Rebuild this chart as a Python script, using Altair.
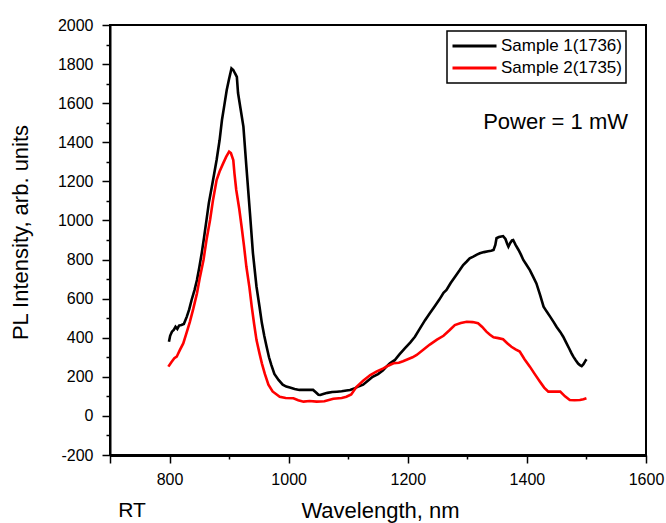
import altair as alt
import pandas as pd

# ---- data ----
wl_s1 = [799, 801, 804, 807, 810, 813, 816, 820, 824, 829,
         833, 837, 842, 846, 850, 854, 858, 862, 866, 871,
         875, 879, 884, 888, 892, 896, 900, 904, 907, 910,
         913, 915, 919, 924, 929, 935, 940, 946, 951, 955,
         959, 963, 967, 971, 976, 983, 990, 996, 1002, 1010,
         1018, 1025, 1033, 1041, 1046, 1050, 1053, 1058, 1065, 1073,
         1081, 1089, 1097, 1103, 1110, 1118, 1125, 1133, 1141, 1150,
         1158, 1165, 1170, 1178, 1186, 1195, 1204, 1212, 1220, 1229,
         1237, 1245, 1253, 1260, 1265, 1272, 1280, 1287, 1293, 1299,
         1304, 1310, 1316, 1321, 1328, 1335, 1340, 1344, 1347, 1349,
         1353, 1357, 1360, 1364, 1367, 1369, 1372, 1375, 1377, 1381,
         1386, 1390, 1394, 1399, 1405, 1410, 1416, 1422, 1428, 1433,
         1439, 1445, 1450, 1456, 1461, 1466, 1471, 1475, 1478, 1482,
         1486, 1489, 1492, 1495, 1498, 1500]
pl_s1 = [380, 410, 431, 440, 456, 445, 462, 465, 470, 508,
         545, 593, 645, 695, 760, 833, 915, 1002, 1090, 1173,
         1240, 1309, 1410, 1514, 1590, 1667, 1725, 1778, 1770, 1752,
         1735, 1652, 1575, 1480, 1275, 1038, 833, 661, 560, 475,
         410, 354, 300, 260, 215, 184, 160, 150, 145, 138,
         133, 133, 133, 133, 120, 108, 107, 112, 118, 122,
         124, 126, 130, 133, 140, 152, 160, 180, 200, 214,
         232, 255, 269, 285, 315, 345, 375, 405, 445, 490,
         525, 560, 595, 630, 644, 680, 715, 745, 772, 790,
         806, 815, 825, 832, 838, 842, 845, 849, 875, 909,
         915, 918, 920, 905, 880, 866, 885, 898, 900, 875,
         849, 825, 798, 775, 746, 715, 678, 620, 559, 535,
         508, 480, 455, 430, 405, 375, 345, 320, 303, 285,
         268, 260, 255, 265, 280, 290]

wl_s2 = [798, 803, 808, 812, 817, 823, 828, 834, 840, 846,
         851, 857, 862, 868, 873, 879, 884, 890, 895, 900,
         903, 907, 909, 912, 917, 921, 925, 929, 934, 938,
         942, 946, 951, 955, 960, 966, 973, 985, 995, 1008,
         1016, 1025, 1035, 1047, 1060, 1075, 1089, 1097, 1105, 1114,
         1125, 1137, 1148, 1159, 1168, 1176, 1185, 1192, 1200, 1208,
         1215, 1226, 1237, 1249, 1260, 1270, 1279, 1289, 1299, 1309,
         1318, 1325, 1332, 1338, 1344, 1352, 1360, 1367, 1374, 1381,
         1388, 1396, 1405, 1413, 1422, 1429, 1436, 1446, 1456, 1464,
         1472, 1480, 1489, 1495, 1500]
pl_s2 = [252, 275, 295, 303, 335, 371, 420, 480, 550, 627,
         710, 798, 900, 1002, 1105, 1207, 1250, 1292, 1325, 1352,
         1345, 1309, 1240, 1156, 1060, 968, 870, 763, 660, 559,
         470, 388, 320, 269, 215, 160, 125, 98, 92, 90,
         80, 73, 76, 73, 75, 88, 92, 98, 110, 149,
         180, 209, 228, 243, 258, 269, 272, 280, 290, 300,
         312, 338, 365, 390, 410, 438, 465, 475, 482, 480,
         474, 455, 431, 415, 402, 398, 392, 372, 354, 340,
         329, 290, 252, 215, 175, 145, 124, 124, 124, 100,
         81, 80, 81, 85, 90]

series_names = ["Sample 1(1736)", "Sample 2(1735)"]
series_colors = ["#000000", "#ff0000"]

x_major = [700, 800, 1000, 1200, 1400, 1600]
x_minor = [900, 1100, 1300, 1500]
y_major = list(range(-200, 2001, 200))
y_minor = list(range(-100, 2000, 200))

notes = ["Power = 1 mW"]
corner_note = ["RT"]

# ---- build table ----
df = pd.concat([
    pd.DataFrame({"wl": wl_s1, "pl": pl_s1, "series": series_names[0], "order": range(len(wl_s1))}),
    pd.DataFrame({"wl": wl_s2, "pl": pl_s2, "series": series_names[1], "order": range(len(wl_s2))}),
])

FONT = "Liberation Sans"
x_scale = alt.Scale(domain=[700, 1600], nice=False, zero=False)
y_scale = alt.Scale(domain=[-200, 2000], nice=False, zero=False)

lines = alt.Chart(df).mark_line(strokeWidth=2.6, clip=True).encode(
    x=alt.X("wl:Q", scale=x_scale, axis=alt.Axis(
        values=x_major, orient="bottom", title="Wavelength, nm",
        labelExpr="datum.value == 700 ? '' : toString(datum.value)",
        tickSize=8, tickWidth=1.5, tickColor="black",
        domainColor="black", domainWidth=3, grid=False,
        labelFont=FONT, labelFontSize=16, labelColor="black", labelPadding=8,
        labelFlush=False, labelOverlap=False,
        titleFont=FONT, titleFontSize=22, titleFontWeight="normal", titleColor="black",
        titleX=270, titleY=55, titleBaseline="middle", titleAlign="center")),
    y=alt.Y("pl:Q", scale=y_scale, axis=alt.Axis(
        values=y_major, orient="left", title="PL Intensity, arb. units",
        labelExpr="toString(datum.value)",
        tickSize=8, tickWidth=1.5, tickColor="black",
        domainColor="black", domainWidth=2, grid=False,
        labelFont=FONT, labelFontSize=16, labelColor="black", labelPadding=9,
        labelOverlap=False,
        titleFont=FONT, titleFontSize=22, titleFontWeight="normal", titleColor="black",
        titleAngle=270, titleX=-90, titleY=207, titleBaseline="middle", titleAlign="center")),
    color=alt.Color("series:N", scale=alt.Scale(domain=series_names, range=series_colors),
                    legend=alt.Legend(
                        orient="none", legendX=337, legendY=6, title=None,
                        symbolType="stroke", symbolSize=1936, symbolStrokeWidth=3,
                        clipHeight=22, rowPadding=0, padding=4, labelOffset=3,
                        labelFont=FONT, labelFontSize=17, labelColor="black",
                        strokeColor="black")),
    order="order:Q",
)

minor = alt.Chart(df).mark_line(strokeOpacity=0).encode(
    x=alt.X("wl:Q", scale=x_scale, axis=alt.Axis(
        values=x_minor, orient="bottom", labels=False, title=None, domain=False,
        tickSize=4, tickWidth=1.5, tickColor="black", grid=False)),
    y=alt.Y("pl:Q", scale=y_scale, axis=alt.Axis(
        values=y_minor, orient="left", labels=False, title=None, domain=False,
        tickSize=4, tickWidth=1.5, tickColor="black", grid=False)),
    detail="series:N",
)

power = alt.Chart(pd.DataFrame({"t": notes})).mark_text(
    font=FONT, fontSize=22, align="right", baseline="middle", color="black"
).encode(text="t:N", x=alt.value(518), y=alt.value(97))

rt = alt.Chart(pd.DataFrame({"t": corner_note})).mark_text(
    font=FONT, fontSize=21, align="center", baseline="middle", color="black"
).encode(text="t:N", x=alt.value(22), y=alt.value(486))

chart = alt.layer(lines, minor, power, rt).resolve_axis(
    x="independent", y="independent"
).properties(
    width=536, height=430,
    autosize=alt.AutoSizeParams(type="none"),
    padding={"left": 110, "top": 25, "right": 20, "bottom": 68},
    background="white",
).configure_view(
    stroke="black", strokeWidth=2
).configure_legend(
    strokeWidth=1.5
)

chart.save("out.html", embed_options={"renderer": "svg", "actions": False})
